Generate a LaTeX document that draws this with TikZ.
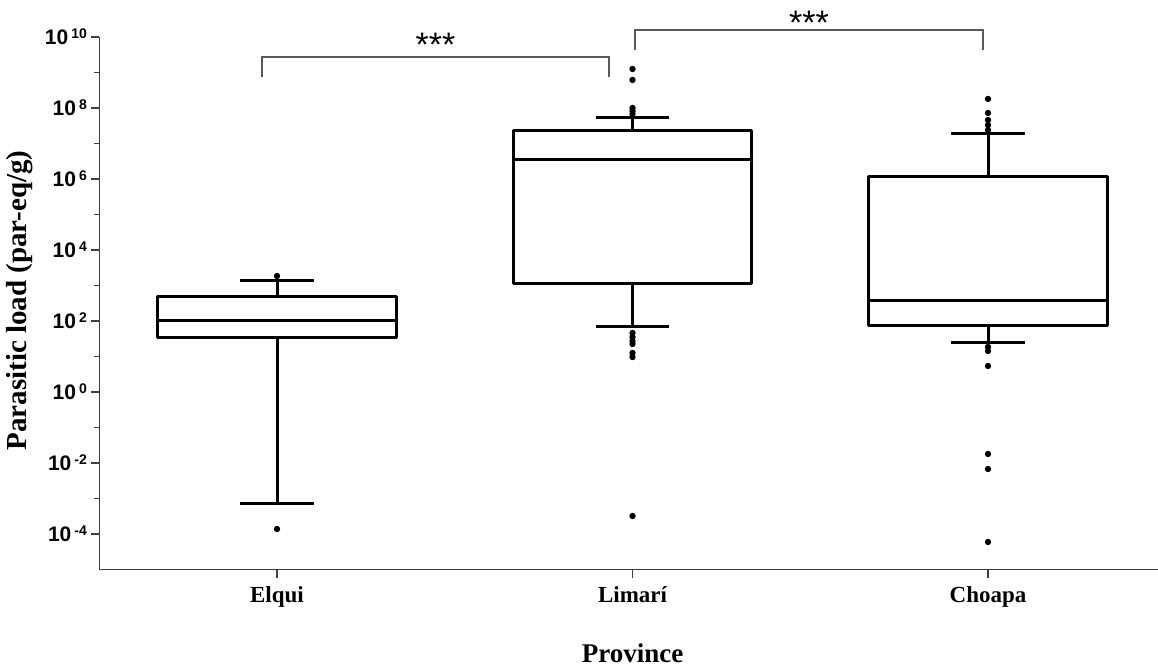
\documentclass[tikz,border=0pt]{standalone}
\usepackage{fontspec}
\setmainfont{Liberation Serif}
\newfontfamily\arialfont{Liberation Sans}
\usepackage{tikz}

\tikzset{
axisline/.style={line width=0.75pt, draw=black!75},
boxline/.style={line width=1.5pt, draw=black, line join=round},
bracketline/.style={line width=0.7pt, draw=black!65},
ticklab/.style={anchor=base east, inner sep=0pt, font=\arialfont\bfseries\fontsize{10.5}{12}\selectfont},
catlab/.style={anchor=base, inner sep=0pt, font=\bfseries\fontsize{11.5}{13}\selectfont},
starlab/.style={anchor=base, inner sep=0pt, font=\arialfont\fontsize{17}{19}\selectfont}
}

\begin{document}
\begin{tikzpicture}[x=177.75pt, y=17.75pt]
\useasboundingbox (0.2208,-7.746) rectangle (3.4782,11.042);

% axes
\draw[axisline] (0.5,10) -- (0.5,-5) -- (3.4782,-5);

\foreach \p in {-4,-2,...,10}
{
\draw[axisline] (0.5,\p) -- ++(-4pt,0);
\node[ticklab, xshift=-6pt, yshift=-3.76pt] (tick\p) at (0.5,\p) {10\kern1.5pt\raisebox{3pt}{\fontsize{7}{7}\selectfont\p}};
}

\foreach \p in {-3,-1,...,9}
{
\draw[axisline] (0.5,\p) -- ++(-2.5pt,0);
}

\foreach \c in {1,2,3}
{
\draw[axisline] (\c,-5) -- ++(0,-4.5pt);
}

% boxes: position / lower whisker / Q1 / median / Q3 / upper whisker
\foreach \c/\lo/\qa/\md/\qb/\hi in {1/-3.155/1.521/2.0/2.676/3.127, 2/1.831/3.042/6.535/7.352/7.718, 3/1.408/1.859/2.563/6.056/7.268}
{
\draw[boxline] (\c-0.335,\qa) rectangle (\c+0.335,\qb);
\draw[boxline] (\c-0.335,\md) -- (\c+0.335,\md);
\draw[boxline] (\c,\qb) -- (\c,\hi) (\c-0.104,\hi) -- (\c+0.104,\hi);
\draw[boxline] (\c,\qa) -- (\c,\lo) (\c-0.104,\lo) -- (\c+0.104,\lo);
}

% outliers
\foreach \v in {3.268,-3.859}
\fill (1,\v) circle (1.6pt);
\foreach \v in {9.099,8.789,8.0,7.915,7.831,1.662,1.549,1.437,1.352,1.099,0.986,-3.493}
\fill (2,\v) circle (1.6pt);
\foreach \v in {8.254,7.859,7.662,7.521,7.380,1.268,1.155,0.732,-1.746,-2.169,-4.225}
\fill (3,\v) circle (1.6pt);

% significance brackets
\coordinate (elquiEnd) at (0.958,8.873);
\coordinate (limariEnd) at (1.934,8.873);
\coordinate (limariEndB) at (2.007,9.634);
\coordinate (choapaEnd) at (2.986,9.634);
\draw[bracketline] (elquiEnd) -- ++(0,0.564) -| (limariEnd);
\draw[bracketline] (limariEndB) -- ++(0,0.563) -| (choapaEnd);
\node[starlab] (starsA) at (1.446,9.45) {***};
\node[starlab] (starsB) at (2.4965,10.07) {***};

% labels
\node[catlab] (elqui) at (1,-5.944) {Elqui};
\node[catlab] (limari) at (2,-5.944) {Limarí};
\node[catlab] (choapa) at (3,-5.944) {Choapa};
\node[anchor=base, inner sep=0pt, font=\bfseries\fontsize{13.5}{16}\selectfont] (province) at (2,-7.634) {Province};
\node[rotate=90, inner sep=0pt, font=\bfseries\fontsize{14.5}{17}\selectfont] (ytitle) at (0.277,2.577) {Parasitic load (par-eq/g)};
\end{tikzpicture}
\end{document}
